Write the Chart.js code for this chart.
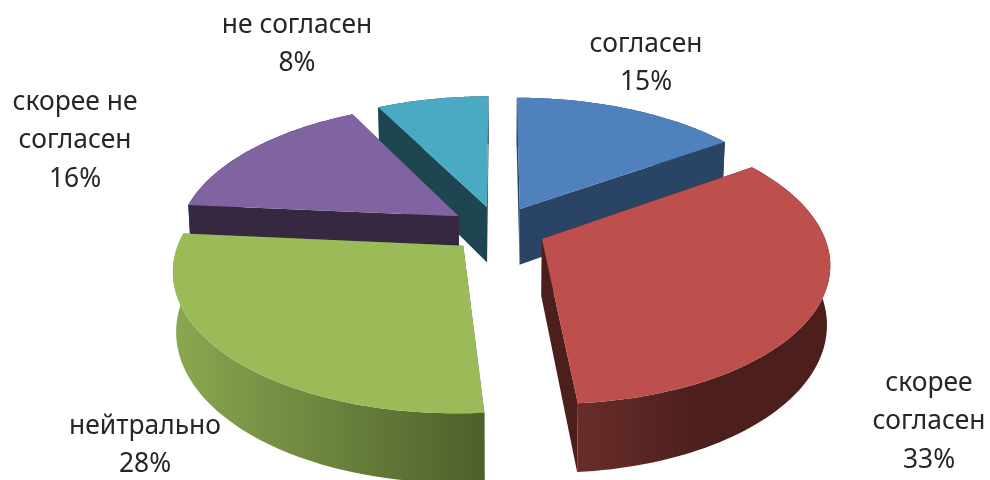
<!DOCTYPE html>
<html lang="ru">
<head>
<meta charset="utf-8">
<title>Круговая диаграмма</title>
<script src="https://cdn.jsdelivr.net/npm/chart.js@4"></script>
<style>
  html, body { margin: 0; padding: 0; background: #fff; }
  #wrap { width: 990px; height: 480px; overflow: hidden; }
  #grafico { filter: blur(0.4px); }
</style>
</head>
<body>
<div id="wrap"><canvas id="grafico"></canvas></div>
<script>
// Values (shares of the circle, in percent)
const categorias = ['согласен', 'скорее согласен', 'нейтрально', 'скорее не согласен', 'не согласен'];
const valores = [15.4, 33.3, 27.7, 16.0, 7.6];

// Label text broken the way the picture breaks it
const lineas = [['согласен'], ['скорее', 'согласен'], ['нейтрально'], ['скорее не', 'согласен'], ['не согласен']];
const anclas = [[646, 44], [929, 383], [145, 426], [75, 102], [297, 25]];

// Colours: top face, then side wall (start and end of the wall gradient)
const colores = ['#4f81bd', '#bd4f4c', '#9bbb59', '#8064a2', '#4aa9c3'];
const paredes = [['#2a4465', '#2a4465'], ['#682d2a', '#4c1e1c'], ['#8aa850', '#4e5f2b'], ['#352840', '#352840'], ['#1e4650', '#1e4650']];
const ordenDibujo = [4, 0, 3, 2, 1]; // back slices first

// View of the plane of the pie
const vista = { inclinacion: 0.482, distancia: 1749, altura: 57, encogeBase: 0.99 };

function proyectar(px, py, cx, cy) {
    const dz = py - cy;
    const s = 1 / (1 - dz / vista.distancia);
    return { x: cx + (px - cx) * s, y: cy + vista.inclinacion * dz * s, s: s };
}

function base(p, cx) {
    return { x: cx + (p.x - cx) * vista.encogeBase, y: p.y + vista.altura * p.s };
}

function trazar(ctx, puntos, relleno) {
    ctx.beginPath();
    puntos.forEach((p, i) => i ? ctx.lineTo(p.x, p.y) : ctx.moveTo(p.x, p.y));
    ctx.closePath();
    ctx.fillStyle = relleno;
    ctx.fill();
}

const pastel3d = {
    id: 'pastel3d',
    // Slices come from the arcs the library laid out, only projected here
    beforeDatasetsDraw(chart) {
        const ctx = chart.ctx;
        const arcos = chart.getDatasetMeta(0).data;

        ordenDibujo.forEach(i => {
            const arco = arcos[i];
            const cx = arco.x, cy = arco.y, r = arco.outerRadius;
            const medio = (arco.startAngle + arco.endAngle) / 2;
            const ox = cx + Math.cos(medio) * arco.options.offset;
            const oy = cy + Math.sin(medio) * arco.options.offset;

            const borde = [];
            for (let k = 0; k <= 80; k++) {
                const a = arco.startAngle + (arco.endAngle - arco.startAngle) * k / 80;
                borde.push(proyectar(ox + Math.cos(a) * r, oy + Math.sin(a) * r, cx, cy));
            }
            const vertice = proyectar(ox, oy, cx, cy);
            const primero = borde[0], ultimo = borde[borde.length - 1];

            // Side walls
            const minX = Math.min(...borde.map(p => p.x));
            const maxX = Math.max(...borde.map(p => p.x));
            const grad = ctx.createLinearGradient(minX, 0, i === 1 ? minX + 130 : maxX, 0);
            grad.addColorStop(0, paredes[i][0]);
            grad.addColorStop(1, paredes[i][1]);

            trazar(ctx, [vertice, primero, base(primero, cx), base(vertice, cx)], paredes[i][1]);
            trazar(ctx, [vertice, ultimo, base(ultimo, cx), base(vertice, cx)], paredes[i][1]);
            trazar(ctx, borde.concat(borde.map(p => base(p, cx)).reverse()), grad);

            // Top face
            trazar(ctx, [vertice].concat(borde), colores[i]);
        });

        // Labels
        ctx.font = '26.4px "Noto Sans", sans-serif';
        ctx.fillStyle = '#262626';
        ctx.textAlign = 'center';
        ctx.textBaseline = 'middle';
        lineas.forEach((texto, i) => {
            const filas = texto.concat(Math.round(valores[i]) + '%');
            filas.forEach((fila, j) => ctx.fillText(fila, anclas[i][0], anclas[i][1] + j * 38.5));
        });
        return false;
    }
};

new Chart(document.getElementById('grafico'), {
    type: 'pie',
    data: {
        labels: categorias,
        datasets: [{
            data: valores,
            backgroundColor: colores,
            borderWidth: 0,
            offset: 48
        }]
    },
    options: {
        responsive: true,
        maintainAspectRatio: false,
        animation: false,
        radius: 280,
        layout: { padding: { left: 6, bottom: 22 } },
        plugins: { legend: { display: false }, tooltip: { enabled: false } }
    },
    plugins: [pastel3d]
});
</script>
</body>
</html>
